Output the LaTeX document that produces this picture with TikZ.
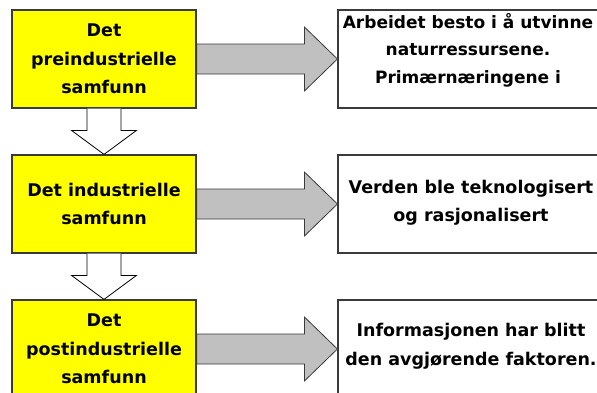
\documentclass[tikz,border=0pt]{standalone}
\usepackage{fontspec}
\setmainfont{DejaVu Sans}
\usetikzlibrary{calc}
\definecolor{bordergray}{HTML}{3A3A3A}
\definecolor{arrowgray}{HTML}{C0C0C0}
\definecolor{boxyellow}{HTML}{FFFF00}
\tikzset{
  txtfont/.style={font=\bfseries\fontsize{17.5}{28.5}\selectfont},
  lbox/.style={draw=bordergray, line width=1.2pt, fill=boxyellow,
    minimum width=184pt, minimum height=98pt, inner sep=0pt, align=center, txtfont},
  rbox/.style={draw=bordergray, line width=1.2pt, fill=white,
    minimum width=266pt, minimum height=98pt, inner sep=0pt},
  rtext/.style={align=center, inner sep=0pt, txtfont},
  rarrow/.style={draw=bordergray, line width=0.8pt, fill=arrowgray, line join=miter},
  darrow/.style={draw=black, line width=0.8pt, fill=white, line join=miter},
}
\begin{document}
\begin{tikzpicture}[x=1pt,y=-1pt]
\useasboundingbox (0,0) rectangle (597,392);
\fill[white] (0,0) rectangle (597,392);

\node[lbox] (l1) at (104,59) {Det\\preindustrielle\\samfunn};
\node[lbox] (l2) at (104,204) {Det industrielle\\samfunn};
\node[lbox] (l3) at (104,349) {Det\\postindustrielle\\samfunn};

\node[rbox] (r1) at (471,59) {};
\node[rbox] (r2) at (471,204) {};
\node[rbox] (r3) at (471,349) {};

\node[rtext, font=\bfseries\fontsize{17}{27.5}\selectfont] (t1) at ($(r1.center)+(-3,-9)$) {Arbeidet besto i å utvinne\\naturressursene.\\Primærnæringene i};
\node[rtext] (t2) at ($(r2.center)+(0,-1.5)$) {Verden ble teknologisert\\og rasjonalisert};
\node[rtext] (t3) at ($(r3.center)+(0,-3)$) {Informasjonen har blitt\\den avgjørende faktoren.};

% right arrows
\foreach \a/\b in {l1/r1, l2/r2, l3/r3}{
  \draw[rarrow] ($(\a.east |- \b.west)+(0,-15)$) -- ($(\b.west)+(-33,-15)$) -- ($(\b.west)+(-33,-32)$)
    -- (\b.west) -- ($(\b.west)+(-33,32)$) -- ($(\b.west)+(-33,15)$) -- ($(\a.east |- \b.west)+(0,15)$) -- cycle;
}

% down arrows
\foreach \a/\b in {l1/l2, l2/l3}{
  \draw[darrow] ($(\a.south)+(-17,0)$) -- ($(\b.north)+(-17,-24)$) -- ($(\b.north)+(-32.5,-24)$)
    -- (\b.north) -- ($(\b.north)+(32.5,-24)$) -- ($(\b.north)+(17,-24)$) -- ($(\a.south)+(17,0)$);
}
\end{tikzpicture}
\end{document}
